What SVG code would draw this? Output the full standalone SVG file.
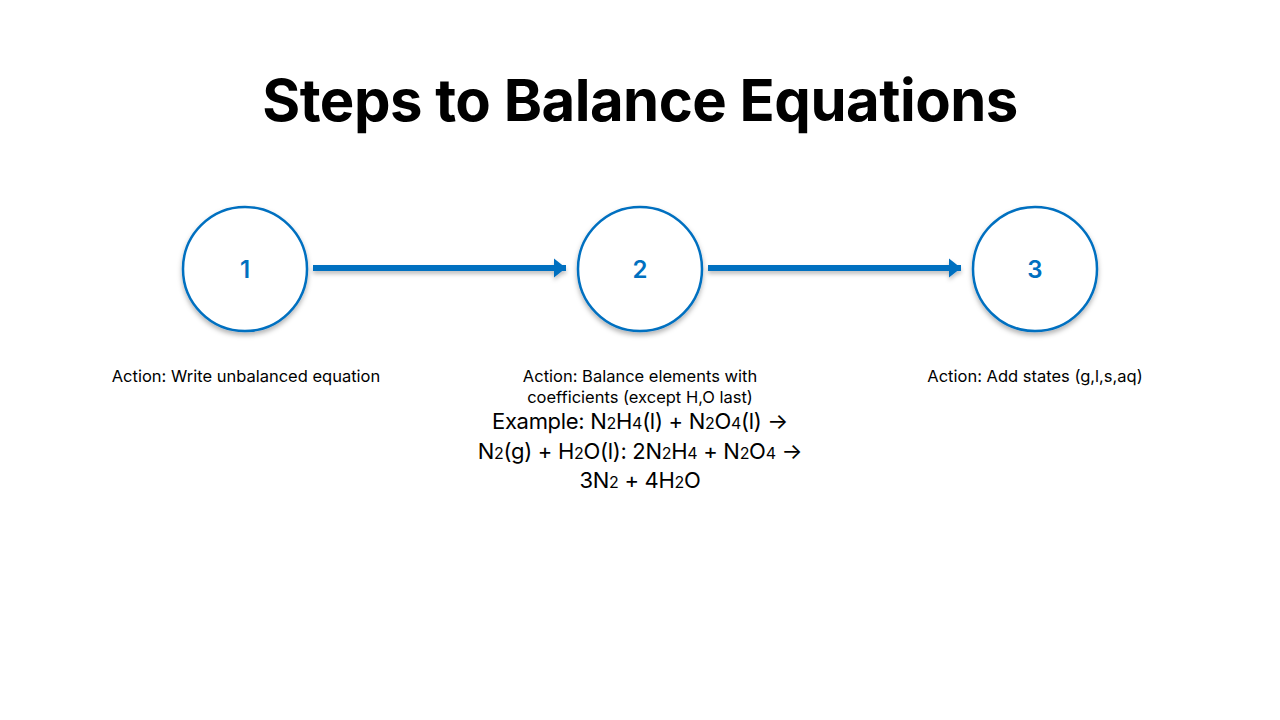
<svg xmlns="http://www.w3.org/2000/svg" width="1280" height="720" viewBox="0 0 1280 720">
<style>
.c{fill:#fff;stroke:#0070C0;stroke-width:2.5}
.n{font-family:Inter,"Liberation Sans",sans-serif;font-weight:600;font-size:24px;fill:#0070C0;text-anchor:middle}
.l{font-family:Inter,"Liberation Sans",sans-serif;font-size:16.5px;fill:#000;text-anchor:middle}
.e{font-family:Inter,"Liberation Sans",sans-serif;font-size:22px;letter-spacing:-0.3px;fill:#000;text-anchor:middle}
.s{font-size:16px}
.cn{stroke:#0070C0;stroke-width:6;fill:none}
</style>
<defs>
<filter id="sh" x="-20%" y="-20%" width="140%" height="140%"><feDropShadow dx="0" dy="3" stdDeviation="2.5" flood-color="#000" flood-opacity="0.3"/></filter>
<filter id="sh2" filterUnits="userSpaceOnUse" x="0" y="240" width="1280" height="60"><feDropShadow dx="0" dy="3" stdDeviation="2" flood-color="#000" flood-opacity="0.25"/></filter>
<marker id="ah" markerWidth="4" markerHeight="4" refX="2" refY="2" orient="auto" markerUnits="strokeWidth"><path d="M0,0.4 L2,2 L0,3.6 Z" fill="#0070C0"/></marker>
</defs>
<rect width="1280" height="720" fill="#fff"/>
<text x="640" y="121" font-family="Inter,'Liberation Sans',sans-serif" font-weight="700" font-size="58" letter-spacing="-0.5" text-anchor="middle" fill="#000">Steps to Balance Equations</text>
<g id="connectors" filter="url(#sh2)">
<line class="cn" x1="313" y1="268" x2="566" y2="268" marker-end="url(#ah)"/>
<line class="cn" x1="708" y1="268" x2="961" y2="268" marker-end="url(#ah)"/>
</g>
<g id="node1"><circle class="c" cx="245" cy="269" r="62" filter="url(#sh)"/><text class="n" x="245" y="278">1</text>
<text class="l" x="246" y="382">Action: Write unbalanced equation</text></g>
<g id="node2"><circle class="c" cx="640" cy="269" r="62" filter="url(#sh)"/><text class="n" x="640" y="278">2</text>
<text class="l" x="640" y="382">Action: Balance elements with</text>
<text class="l" x="640" y="403">coefficients (except H,O last)</text>
<text class="e" x="640" y="429">Example: N<tspan class="s">2</tspan>H<tspan class="s">4</tspan>(l) + N<tspan class="s">2</tspan>O<tspan class="s">4</tspan>(l) →</text>
<text class="e" x="640" y="459">N<tspan class="s">2</tspan>(g) + H<tspan class="s">2</tspan>O(l): 2N<tspan class="s">2</tspan>H<tspan class="s">4</tspan> + N<tspan class="s">2</tspan>O<tspan class="s">4</tspan> →</text>
<text class="e" x="640" y="488">3N<tspan class="s">2</tspan> + 4H<tspan class="s">2</tspan>O</text></g>
<g id="node3"><circle class="c" cx="1035" cy="269" r="62" filter="url(#sh)"/><text class="n" x="1035" y="278">3</text>
<text class="l" x="1035" y="382">Action: Add states (g,l,s,aq)</text></g>
</svg>
